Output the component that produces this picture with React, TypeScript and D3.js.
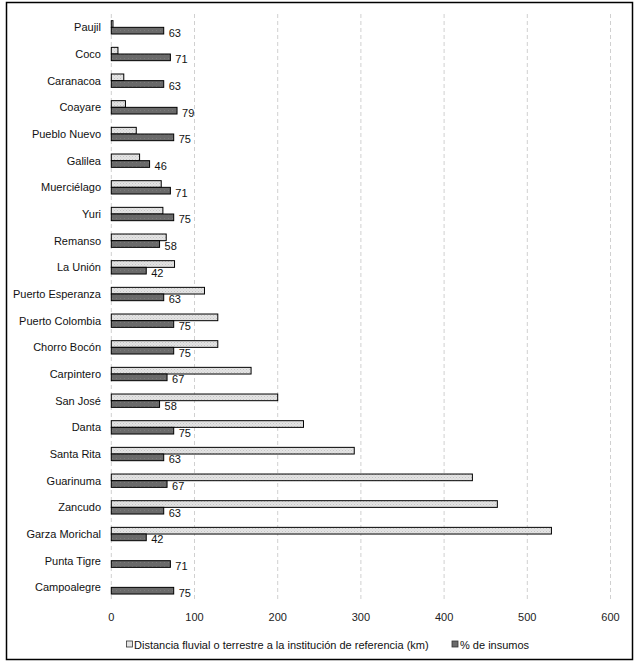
import React from "react";
import * as d3 from "d3";

const categories = [
  "Paujil", "Coco", "Caranacoa", "Coayare", "Pueblo Nuevo", "Galilea", "Muerciélago",
  "Yuri", "Remanso", "La Unión", "Puerto Esperanza", "Puerto Colombia", "Chorro Bocón",
  "Carpintero", "San José", "Danta", "Santa Rita", "Guarinuma", "Zancudo",
  "Garza Morichal", "Punta Tigre", "Campoalegre",
];
const distancia = [2, 8, 15, 17, 30, 34, 60, 62, 66, 76, 112, 128, 128, 168, 200, 231, 292, 434, 464, 529, 0, 0];
const insumos = [63, 71, 63, 79, 75, 46, 71, 75, 58, 42, 63, 75, 75, 67, 58, 75, 63, 67, 63, 42, 71, 75];
const xTicks = [0, 100, 200, 300, 400, 500, 600];
const seriesNames = [
  "Distancia fluvial o terrestre a la institución de referencia (km)",
  "% de insumos",
];

const W = 638;
const H = 664;
const FONT = "'Liberation Sans', Arial, sans-serif";

export default function App() {
  const x = d3.scaleLinear().domain([0, 600]).range([111.3, 610.5]);
  const y = d3.scaleBand<string>().domain(categories).range([14, 600.7]).paddingInner(0).paddingOuter(0);
  const bw = y.bandwidth();
  const barH = bw * 0.25;

  return (
    <svg width={W} height={H} style={{ position: "absolute", left: 0, top: 0 }} fontFamily={FONT}>
      <defs>
        <pattern id="pLight" width="3" height="3" patternUnits="userSpaceOnUse">
          <rect width="3" height="3" fill="#e4e4e4" />
          <rect x="0" y="0" width="1" height="1" fill="#c4c4c4" />
          <rect x="1.5" y="1.5" width="1" height="1" fill="#cfcfcf" />
        </pattern>
        <pattern id="pDark" width="4" height="4" patternUnits="userSpaceOnUse">
          <rect width="4" height="4" fill="#6a6a6a" />
          <rect x="0" y="2" width="1" height="1" fill="#7c7c7c" />
        </pattern>
      </defs>
      <rect x={0} y={0} width={W} height={H} fill="#fff" />
      <rect x={6.5} y={2.5} width={626} height={657} fill="none" stroke="#000" strokeWidth={1.5} />

      {xTicks.map((t) => (
        <g key={t}>
          <line x1={x(t)} x2={x(t)} y1={14} y2={601} stroke="#d0d0d0" strokeDasharray="4,3" strokeWidth={1} />
          <text x={x(t)} y={621} textAnchor="middle" fontSize={11} fill="#222">{t}</text>
        </g>
      ))}

      {categories.map((c, i) => {
        const y0 = (y(c) as number) + bw / 2;
        return (
          <g key={c}>
            <text x={101} y={y0 + 4} textAnchor="end" fontSize={11} fill="#111">{c}</text>
            {distancia[i] > 0 && (
              <rect x={x(0)} y={y0 - barH} width={x(distancia[i]) - x(0)} height={barH}
                fill="url(#pLight)" stroke="#000" strokeWidth={1} />
            )}
            <rect x={x(0)} y={y0} width={x(insumos[i]) - x(0)} height={barH}
              fill="url(#pDark)" stroke="#000" strokeWidth={1} />
            <text x={x(insumos[i]) + 5} y={y0 + barH / 2 + 6} fontSize={11} fill="#111">{insumos[i]}</text>
          </g>
        );
      })}

      <g>
        <rect x={126.5} y={641} width={6} height={6} fill="#e4e4e4" stroke="#333" strokeWidth={0.8} />
        <text x={134} y={648.5} fontSize={11} fill="#111">{seriesNames[0]}</text>
        <rect x={452} y={641} width={6} height={6} fill="#6a6a6a" stroke="#333" strokeWidth={0.8} />
        <text x={460} y={648.5} fontSize={11} fill="#111">{seriesNames[1]}</text>
      </g>
    </svg>
  );
}
